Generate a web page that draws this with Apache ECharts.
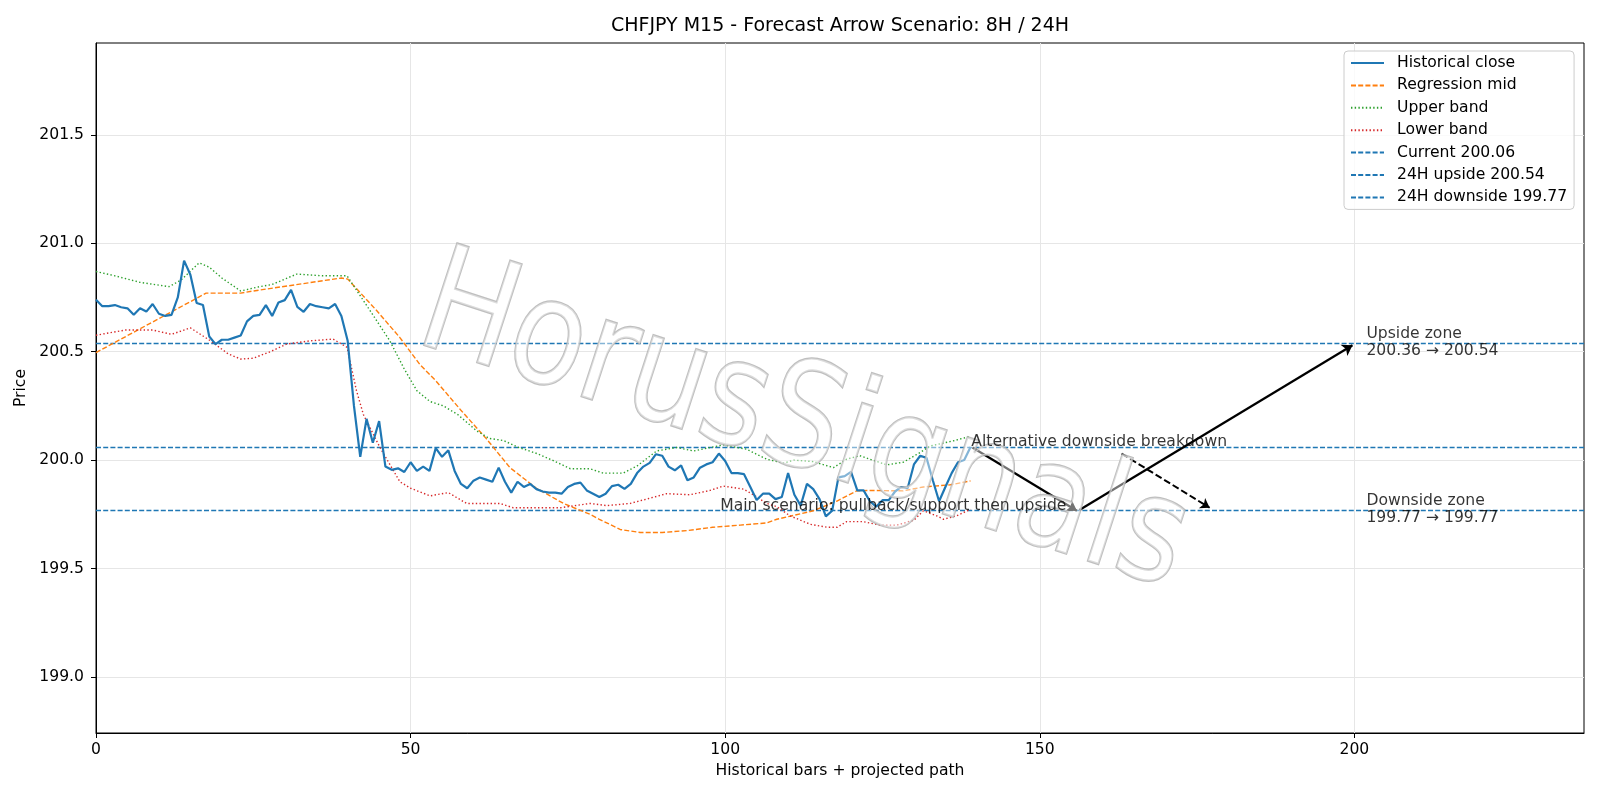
<!DOCTYPE html>
<html>
<head>
<meta charset="utf-8">
<title>CHFJPY M15 - Forecast Arrow Scenario</title>
<script src="https://cdn.jsdelivr.net/npm/echarts@6/dist/echarts.min.js"></script>
<style>
html, body { margin: 0; padding: 0; background: #fff; }
#chart { width: 1600px; height: 800px; }
</style>
</head>
<body>
<div id="chart"></div>
<script>
// historical closes, one per bar (0..139)
var closeValues = [
    200.74, 200.71, 200.71, 200.715, 200.705, 200.70, 200.67, 200.70, 200.685, 200.72,
    200.675, 200.665, 200.67, 200.75, 200.92, 200.855, 200.725, 200.715, 200.57, 200.535,
    200.555, 200.555, 200.565, 200.575, 200.64, 200.665, 200.67, 200.715, 200.665, 200.727,
    200.738, 200.785, 200.707, 200.684, 200.72, 200.71, 200.705, 200.70, 200.72, 200.665,
    200.55, 200.25, 200.015, 200.19, 200.08, 200.18, 199.97, 199.955, 199.962, 199.945,
    199.99, 199.95, 199.97, 199.95, 200.055, 200.015, 200.045, 199.95, 199.89, 199.87,
    199.905, 199.92, 199.91, 199.90, 199.965, 199.90, 199.85, 199.90, 199.876, 199.89,
    199.866, 199.855, 199.85, 199.85, 199.845, 199.876, 199.89, 199.896, 199.86, 199.845,
    199.83, 199.845, 199.88, 199.886, 199.867, 199.89, 199.94, 199.97, 199.987, 200.027,
    200.02, 199.97, 199.953, 199.975, 199.907, 199.92, 199.965, 199.98, 199.99, 200.03,
    199.996, 199.94, 199.94, 199.935, 199.876, 199.816, 199.845, 199.845, 199.82, 199.83,
    199.94, 199.84, 199.79, 199.89, 199.866, 199.82, 199.74, 199.766, 199.92, 199.926,
    199.946, 199.86, 199.86, 199.81, 199.785, 199.815, 199.815, 199.855, 199.876, 199.87,
    199.98, 200.02, 200.01, 199.907, 199.81, 199.876, 199.94, 199.99, 200.00, 200.06
];

// [bar, price]
var regressionMid = [
    [0, 200.496], [17.5, 200.77], [23, 200.77], [25, 200.78], [39, 200.84], [40, 200.835],
    [44.6, 200.69], [48.3, 200.565], [51.5, 200.44], [54, 200.366], [58, 200.23], [62, 200.10],
    [65.8, 199.965], [70, 199.87], [74.3, 199.80], [78.5, 199.75], [80, 199.727], [83.3, 199.68],
    [86.5, 199.666], [90, 199.666], [94, 199.675], [98, 199.69], [102.4, 199.70], [106.6, 199.71],
    [108.2, 199.727], [114, 199.766], [117.7, 199.81], [120.9, 199.858], [123, 199.86],
    [128.3, 199.858], [131.5, 199.876], [135.8, 199.886], [139, 199.904]
];
var upperBand = [
    [0, 200.87], [3, 200.85], [7, 200.82], [11.6, 200.80], [13.5, 200.83], [16.4, 200.91],
    [18, 200.89], [20, 200.84], [23, 200.78], [26, 200.80], [28, 200.81], [31.9, 200.858],
    [36, 200.85], [39.9, 200.85], [41.5, 200.78], [44, 200.67], [46.7, 200.55], [49, 200.42],
    [51, 200.32], [53.1, 200.27], [55.2, 200.25], [57.5, 200.21], [60.5, 200.135], [62.5, 200.10],
    [64.8, 200.09], [67, 200.06], [70.1, 200.03], [72.5, 200.00], [75.4, 199.96], [78.5, 199.96],
    [80.6, 199.94], [83.8, 199.94], [86, 199.973], [89.1, 200.042], [92.3, 200.058], [95, 200.042],
    [99.7, 200.07], [103.4, 200.05], [106.6, 200.004], [109.3, 199.986], [110.9, 200.0],
    [114, 199.993], [117.2, 199.965], [119.3, 200.004], [121.4, 200.02], [123, 200.004],
    [125.7, 199.978], [128.3, 199.99], [131, 200.035], [132.6, 200.065], [136.3, 200.089], [139, 200.11]
];
var lowerBand = [
    [0, 200.576], [4.7, 200.60], [9, 200.60], [12, 200.58], [15, 200.61], [18.2, 200.55],
    [21, 200.49], [23, 200.466], [25, 200.47], [27.7, 200.50], [30.3, 200.535], [34, 200.55],
    [37.7, 200.558], [39.9, 200.52], [41.4, 200.32], [42.5, 200.21], [45.1, 200.06], [48.3, 199.90],
    [50, 199.87], [53.1, 199.835], [56, 199.85], [58.9, 199.80], [64.2, 199.80], [66.3, 199.78],
    [73.8, 199.78], [78.5, 199.80], [81.2, 199.79], [84.9, 199.80], [87.5, 199.82], [90.7, 199.845],
    [94.4, 199.84], [97.6, 199.86], [99.7, 199.88], [102.9, 199.866], [104.5, 199.84], [106.6, 199.80],
    [108.2, 199.785], [110.3, 199.743], [113.5, 199.704], [116.2, 199.69], [117.8, 199.69],
    [119.3, 199.716], [121.9, 199.716], [124.6, 199.70], [127.3, 199.70], [130, 199.723],
    [131.5, 199.766], [133.6, 199.743], [134.7, 199.727], [136.8, 199.743], [139, 199.773]
];

// reference levels
var levelNames = ['Current 200.06', '24H upside 200.54', '24H downside 199.77'];
var levelValues = [200.06, 200.54, 199.77];

// scenario arrows: [from, to]
var mainPath = [[[139.3, 200.058], [155.9, 199.766]], [[156.3, 199.77], [199.7, 200.53]]];
var altPath = [[163, 200.03], [177, 199.78]];

var xTicks = [0, 50, 100, 150, 200];
var yTicks = [199.0, 199.5, 200.0, 200.5, 201.0, 201.5];

var FONT = 'DejaVu Sans';
var FS = 15.6;
var BLUE = '#1f77b4';

var chart = echarts.init(document.getElementById('chart'));

var levelSeries = levelNames.map(function (name, i) {
    return {
        name: name,
        type: 'line',
        data: [],
        symbol: 'none',
        lineStyle: { color: BLUE, width: 1.4, type: [5, 2.2] },
        itemStyle: { color: BLUE },
        markLine: {
            silent: true,
            symbol: ['none', 'none'],
            label: { show: false },
            lineStyle: { color: BLUE, width: 1.4, type: [5, 2.2] },
            data: [{ yAxis: levelValues[i] }]
        },
        z: 3
    };
});

var textItems = [
    { value: [139.2, 200.06], label: { formatter: 'Alternative downside breakdown', verticalAlign: 'bottom', offset: [0, 4] } },
    { value: [99.3, 199.765], label: { formatter: 'Main scenario: pullback/support then upside', verticalAlign: 'bottom', offset: [0, 4] } },
    { value: [202, 200.54], label: { formatter: 'Upside zone\n200.36 \u2192 200.54', verticalAlign: 'middle' } },
    { value: [202, 199.77], label: { formatter: 'Downside zone\n199.77 \u2192 199.77', verticalAlign: 'middle' } }
];

chart.setOption({
    animation: false,
    backgroundColor: '#fff',
    textStyle: { fontFamily: FONT },
    grid: {
        left: 96, right: 16, top: 43, bottom: 67,
        show: true, borderColor: '#000', borderWidth: 1, backgroundColor: 'transparent'
    },
    graphic: [{
        type: 'text',
        x: 840, y: 26,
        style: { text: 'CHFJPY M15 - Forecast Arrow Scenario: 8H / 24H', fontSize: 19, fontFamily: FONT, fill: '#000', align: 'center', verticalAlign: 'middle' }
    }, {
        type: 'text',
        x: 803, y: 428,
        rotation: -18 * Math.PI / 180,
        scaleY: 1.2,
        z: 7,
        silent: true,
        style: {
            text: 'HorusSignals', fontSize: 122, fontFamily: FONT,
            fill: 'rgba(255,255,255,0.45)', stroke: 'rgba(175,175,175,0.8)', lineWidth: 2,
            align: 'center', verticalAlign: 'middle',
            shadowColor: 'rgba(0,0,0,0.3)', shadowOffsetX: 3, shadowOffsetY: 3, shadowBlur: 2
        }
    }],
    legend: {
        orient: 'vertical',
        left: 1344, top: 51,
        padding: [4, 7, 4, 6],
        itemWidth: 33, itemHeight: 16, itemGap: 6.4,
        backgroundColor: 'rgba(255,255,255,0.8)',
        borderColor: '#cccccc', borderWidth: 1, borderRadius: 4,
        itemStyle: { color: 'rgba(0,0,0,0)', opacity: 0, borderWidth: 0 },
        textStyle: { fontSize: FS, color: '#000', fontFamily: FONT, lineHeight: 16, padding: [0, 0, 0, 8] },
        data: ['Historical close', 'Regression mid', 'Upper band', 'Lower band'].concat(levelNames)
    },
    xAxis: {
        type: 'value', min: 0, max: 236.5,
        name: 'Historical bars + projected path', nameLocation: 'middle', nameGap: 30,
        nameTextStyle: { fontSize: FS, color: '#000', fontFamily: FONT },
        axisLine: { show: true, lineStyle: { color: '#000', width: 1 } },
        axisTick: { show: true, length: 5, lineStyle: { color: '#000' }, customValues: xTicks },
        axisLabel: { fontSize: FS, color: '#000', margin: 9, customValues: xTicks },
        splitLine: { show: true, lineStyle: { color: '#e6e6e6', width: 1 } }
    },
    yAxis: {
        type: 'value', min: 198.741, max: 201.924,
        name: 'Price', nameLocation: 'middle', nameGap: 62, nameRotate: 90,
        nameTextStyle: { fontSize: FS, color: '#000', fontFamily: FONT },
        axisLine: { show: true, lineStyle: { color: '#000', width: 1 } },
        axisTick: { show: true, length: 5, lineStyle: { color: '#000' }, customValues: yTicks },
        axisLabel: {
            fontSize: FS, color: '#000', margin: 12, customValues: yTicks,
            formatter: function (v) { return v.toFixed(1); }
        },
        splitLine: { show: true, lineStyle: { color: '#e6e6e6', width: 1 } }
    },
    series: [{
        name: 'Historical close',
        type: 'line',
        data: closeValues.map(function (v, i) { return [i, v]; }),
        symbol: 'none',
        lineStyle: { color: BLUE, width: 2.2 },
        itemStyle: { color: BLUE },
        z: 6
    }, {
        name: 'Regression mid',
        type: 'line',
        data: regressionMid,
        symbol: 'none',
        lineStyle: { color: '#ff7f0e', width: 1.4, type: [5, 2.2] },
        itemStyle: { color: '#ff7f0e' },
        z: 5
    }, {
        name: 'Upper band',
        type: 'line',
        data: upperBand,
        symbol: 'none',
        lineStyle: { color: '#2ca02c', width: 1.4, type: [1.4, 2.3] },
        itemStyle: { color: '#2ca02c' },
        z: 5
    }, {
        name: 'Lower band',
        type: 'line',
        data: lowerBand,
        symbol: 'none',
        lineStyle: { color: '#d62728', width: 1.4, type: [1.4, 2.3] },
        itemStyle: { color: '#d62728' },
        z: 5
    }].concat(levelSeries).concat([{
        type: 'lines',
        coordinateSystem: 'cartesian2d',
        silent: true,
        symbol: ['none', 'arrow'],
        symbolSize: 10,
        lineStyle: { color: '#000', width: 2.2, opacity: 1, curveness: 0 },
        data: mainPath.map(function (p) { return { coords: p }; }),
        z: 6
    }, {
        type: 'lines',
        coordinateSystem: 'cartesian2d',
        silent: true,
        symbol: ['none', 'arrow'],
        symbolSize: 9,
        lineStyle: { color: '#000', width: 2, opacity: 1, type: [7, 3], curveness: 0 },
        data: [{ coords: altPath }],
        z: 6
    }, {
        type: 'scatter',
        silent: true,
        symbolSize: 1,
        itemStyle: { color: 'rgba(0,0,0,0)' },
        label: {
            show: true, position: [0, 0], align: 'left',
            fontSize: FS, color: '#000', fontFamily: FONT, lineHeight: 17.5
        },
        data: textItems,
        z: 9
    }])
});
</script>
</body>
</html>
